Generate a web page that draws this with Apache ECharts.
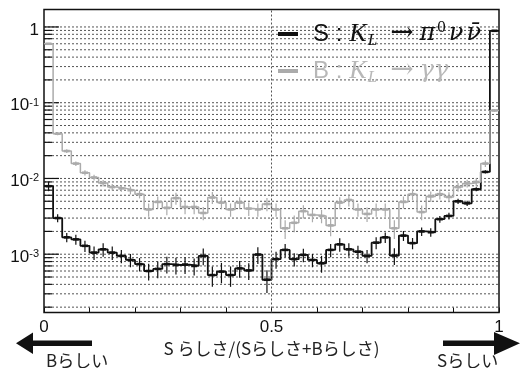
<!DOCTYPE html>
<html><head><meta charset="utf-8">
<script src="https://cdn.jsdelivr.net/npm/echarts@6/dist/echarts.min.js"></script>
<style>html,body{margin:0;padding:0;background:#fff}#c{width:528px;height:368px}</style>
</head><body><div id="c"></div>
<script>
// ---- data (50 bins over 0..1) ----
const binCount = 50;
const sValues = [0.0079,0.0030,0.00167,0.00157,0.00129,0.00105,0.00116,0.00105,0.00095,0.00084,
  0.00074,0.00060,0.00064,0.00074,0.00072,0.00073,0.00070,0.00095,0.00053,0.00059,
  0.00053,0.00065,0.00061,0.00099,0.00046,0.00086,0.00114,0.00086,0.00098,0.00084,
  0.00076,0.00114,0.00135,0.00116,0.00108,0.00095,0.00142,0.00167,0.00096,0.00176,
  0.00140,0.0020,0.00195,0.0029,0.0032,0.0050,0.0047,0.0072,0.0122,0.89];
const sRelErr = [0.14,0.12,0.14,0.15,0.17,0.2,0.2,0.2,0.2,0.2,
  0.2,0.25,0.25,0.25,0.25,0.25,0.25,0.25,0.3,0.3,
  0.3,0.25,0.25,0.25,0.33,0.25,0.2,0.2,0.2,0.2,
  0.25,0.2,0.2,0.2,0.2,0.2,0.18,0.16,0.25,0.15,
  0.17,0.13,0.13,0.1,0.1,0.08,0.08,0.06,0.05,0.01];
const bValues = [0.60,0.039,0.023,0.0157,0.0119,0.0103,0.0087,0.0077,0.0074,0.0070,
  0.0062,0.0039,0.0049,0.0041,0.0055,0.0042,0.0042,0.0035,0.0056,0.0048,
  0.0039,0.0048,0.0040,0.0039,0.0046,0.0039,0.0022,0.0026,0.0037,0.0033,
  0.0032,0.0024,0.0048,0.0052,0.0039,0.0034,0.0039,0.0039,0.0022,0.0049,
  0.0062,0.0036,0.0058,0.0062,0.0057,0.0077,0.0086,0.0090,0.0157,0.079];
const bRelErr = [0.02,0.05,0.06,0.07,0.08,0.09,0.1,0.1,0.1,0.12,
  0.12,0.2,0.18,0.2,0.18,0.2,0.2,0.2,0.18,0.18,
  0.2,0.18,0.2,0.2,0.2,0.2,0.28,0.25,0.2,0.2,
  0.2,0.28,0.18,0.18,0.2,0.22,0.2,0.2,0.28,0.18,
  0.16,0.22,0.16,0.15,0.15,0.13,0.12,0.12,0.1,0.04];
const xLabels = {0: '0', 0.5: '0.5', 1: '1'};
const yMantissas = [1,2,3,4,5,6,7,8,9];
const yDecades = [-4,-3,-2,-1,0];
const yMin = 1.7e-4, yMax = 1.7;
const xTitle = 'S らしさ/(Sらしさ+Bらしさ)';
const leftNote = 'Bらしい', rightNote = 'Sらしい';
const legendNames = ['S', 'B'];
const legendText = {
  S: '{t|S :}{k|K}{sub|L}{r|→}{g|π}{sup|0}{g|ν}{n|ν\u0304}',
  B: '{t|B :}{k|K}{sub|L}{r|→}{g|γγ}'
};

// ---- derived ----
const yGridValues = [];
yDecades.forEach(d => yMantissas.forEach(m => {
  const v = m * Math.pow(10, d);
  if (v >= yMin && v <= yMax * 0.999) yGridValues.push(+v.toPrecision(3));
}));
function stepData(vals) {
  const d = vals.map((v, i) => [i / binCount, v]);
  d.push([1, vals[vals.length - 1]]);
  return d;
}
function errData(vals, rel) {
  return vals.map((v, i) => [(i + 0.5) / binCount, v, v * (1 - rel[i]), v * (1 + rel[i])]);
}
function errRender(color) {
  return function (params, api) {
    const x = api.value(0), v = api.value(1), lo = api.value(2), hi = api.value(3);
    const p = api.coord([x, v]), pl = api.coord([x, lo]), ph = api.coord([x, hi]);
    return { type: 'group', children: [
      { type: 'line', shape: { x1: p[0], y1: pl[1], x2: p[0], y2: ph[1] }, style: { stroke: color, lineWidth: 1.2 } },
      { type: 'line', shape: { x1: p[0] - 3, y1: p[1], x2: p[0] + 3, y2: p[1] }, style: { stroke: color, lineWidth: 2.6 } }
    ]};
  };
}
const sColor = '#111', bColor = '#ababab';

const chart = echarts.init(document.getElementById('c'), null, { renderer: 'canvas' });
chart.setOption({
  animation: false,
  backgroundColor: '#fff',
  grid: { left: 44, top: 9.5, width: 455, height: 303, show: true, borderColor: '#111', borderWidth: 1.5, backgroundColor: 'transparent' },
  xAxis: {
    type: 'value', min: 0, max: 1, interval: 0.1,
    axisLine: { show: false },
    axisTick: { show: true, inside: true, length: 5, lineStyle: { color: '#111', width: 1 } },
    splitLine: { show: false },
    axisLabel: {
      margin: 6, fontSize: 17, color: '#111', fontFamily: 'Liberation Sans',
      formatter: v => { for (const k in xLabels) { if (Math.abs(v - (+k)) < 1e-6) return xLabels[k]; } return ''; }
    },
    name: xTitle, nameLocation: 'middle', nameGap: 21,
    nameTextStyle: { fontSize: 17, color: '#222', fontFamily: 'Noto Sans CJK JP' }
  },
  yAxis: {
    type: 'log', logBase: 10, min: yMin, max: yMax,
    axisLine: { show: false }, axisTick: { show: false }, splitLine: { show: false },
    axisLabel: {
      showMinLabel: false, showMaxLabel: false, margin: 5, color: '#111',
      padding: [6, 0, 0, 0],
      formatter: v => {
        const e = Math.round(Math.log10(v));
        return e === 0 ? '{b|1}' : '{b|10}{s|' + e + '}';
      },
      rich: {
        b: { fontSize: 17, lineHeight: 17, fontFamily: 'Liberation Sans', color: '#111' },
        s: { fontSize: 11, lineHeight: 11, verticalAlign: 'top', fontFamily: 'Liberation Sans', color: '#111' }
      }
    }
  },
  legend: {
    orient: 'vertical', left: 273, top: 14, icon: 'rect', itemWidth: 20, itemHeight: 4, itemGap: 8,
    data: [{ name: legendNames[0], textStyle: { color: '#111' } }, { name: legendNames[1], textStyle: { color: '#b8b8b8' } }],
    formatter: n => legendText[n],
    textStyle: {
      rich: {
        t: { fontSize: 24, lineHeight: 30, fontFamily: 'Liberation Sans', padding: [0, 7, 0, 10] },
        k: { fontSize: 26, lineHeight: 30, fontFamily: 'Liberation Serif', fontStyle: 'italic' },
        r: { fontSize: 28, lineHeight: 30, fontFamily: 'DejaVu Serif', padding: [0, 5, 0, 13] },
        g: { fontSize: 24, lineHeight: 30, fontFamily: 'DejaVu Serif', fontStyle: 'italic', padding: [0, 1, 0, 1] },
        n: { fontSize: 24, lineHeight: 30, fontFamily: 'DejaVu Serif', fontStyle: 'italic', padding: [0, 0, 0, 2] },
        sub: { fontSize: 17, lineHeight: 17, verticalAlign: 'bottom', fontFamily: 'Liberation Serif', fontStyle: 'italic', padding: [0, 0, 0, 1] },
        sup: { fontSize: 17, lineHeight: 17, verticalAlign: 'top', fontFamily: 'Liberation Serif', padding: [0, 2, 0, 1] }
      }
    }
  },
  graphic: [
    { type: 'polygon', shape: { points: [[16, 343.3], [33, 332.5], [33, 340.5], [92, 340.5], [92, 346], [33, 346], [33, 354]] }, style: { fill: '#111' } },
    { type: 'polygon', shape: { points: [[520, 343.3], [494, 332], [494, 340.5], [443, 340.5], [443, 346], [494, 346], [494, 355]] }, style: { fill: '#111' } },
    { type: 'text', left: 46, top: 352, style: { text: leftNote, fontSize: 17, fill: '#222', fontFamily: 'Noto Sans CJK JP' } },
    { type: 'text', left: 437, top: 352, style: { text: rightNote, fontSize: 17, fill: '#222', fontFamily: 'Noto Sans CJK JP' } }
  ],
  series: [
    {
      type: 'custom', name: 'grid', z: 1, silent: true,
      data: yGridValues.map(v => [0, v]), encode: { x: 0, y: 1 },
      renderItem: (params, api) => {
        const v = api.value(1);
        const pl = api.coord([0, v]), pr = api.coord([1, v]);
        const lg = Math.log10(v);
        const major = Math.abs(lg - Math.round(lg)) < 1e-6;
        return { type: 'group', children: [
          { type: 'line', shape: { x1: pl[0], y1: pl[1], x2: pr[0], y2: pr[1] }, style: { stroke: '#555', lineWidth: 1, lineDash: [2, 2] } },
          { type: 'line', shape: { x1: pl[0], y1: pl[1], x2: pl[0] + (major ? 15 : 8), y2: pl[1] }, style: { stroke: '#111', lineWidth: 1.2 } }
        ]};
      }
    },
    {
      type: 'line', name: 'S', step: 'end', data: stepData(sValues), showSymbol: false, symbol: 'none', z: 2,
      color: sColor, lineStyle: { color: sColor, width: 1.8 },
      markLine: { silent: true, symbol: 'none', label: { show: false }, lineStyle: { type: [2, 2], color: '#555', width: 1 }, data: [{ xAxis: 0.5 }] }
    },
    { type: 'custom', name: 'S', z: 3, silent: true, data: errData(sValues, sRelErr), encode: { x: 0, y: [1, 2, 3] }, renderItem: errRender(sColor) },
    {
      type: 'line', name: 'B', step: 'end', data: stepData(bValues), showSymbol: false, symbol: 'none', z: 4,
      color: bColor, lineStyle: { color: bColor, width: 1.5 }
    },
    { type: 'custom', name: 'B', z: 5, silent: true, data: errData(bValues, bRelErr), encode: { x: 0, y: [1, 2, 3] }, renderItem: errRender(bColor) }
  ]
});
</script></body></html>
